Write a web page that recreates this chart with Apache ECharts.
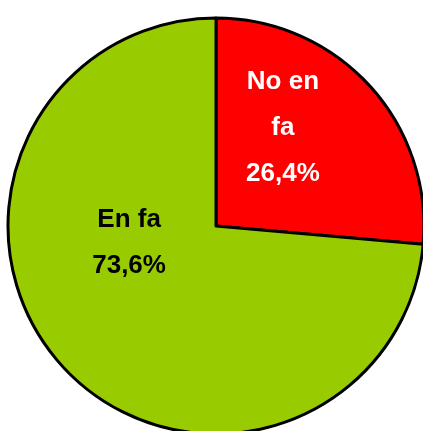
<!DOCTYPE html>
<html>
<head>
<meta charset="utf-8">
<style>
  html, body { margin: 0; padding: 0; background: #fff; }
  #main { width: 423px; height: 431px; }
</style>
<script src="https://cdn.jsdelivr.net/npm/echarts@6/dist/echarts.min.js"></script>
</head>
<body>
<div id="main"></div>
<script>
var names = ['No en\nfa', 'En fa'];
var values = [26.4, 73.6];
var colors = ['#ff0000', '#99cc00'];
var labelColors = ['#ffffff', '#000000'];
var labelOffsets = [[-12, -26], [-8, -55]];

var chart = echarts.init(document.getElementById('main'));

var data = names.map(function (n, i) {
    return {
        name: n,
        value: values[i],
        itemStyle: { color: colors[i] },
        label: { color: labelColors[i], offset: labelOffsets[i] }
    };
});

var option = {
    animation: false,
    series: [{
        type: 'pie',
        center: [216, 226],
        radius: 208,
        startAngle: 90,
        clockwise: true,
        silent: true,
        itemStyle: {
            borderColor: '#000',
            borderWidth: 3
        },
        label: {
            show: true,
            position: 'inside',
            fontFamily: '"Liberation Sans Narrow", "Liberation Sans", Arial, sans-serif',
            fontWeight: 'bold',
            fontSize: 26,
            lineHeight: 46,
            align: 'center',
            formatter: function (p) {
                return p.name + '\n' + p.value.toFixed(1).replace('.', ',') + '%';
            }
        },
        labelLine: { show: false },
        data: data
    }]
};
chart.setOption(option);
</script>
</body>
</html>
